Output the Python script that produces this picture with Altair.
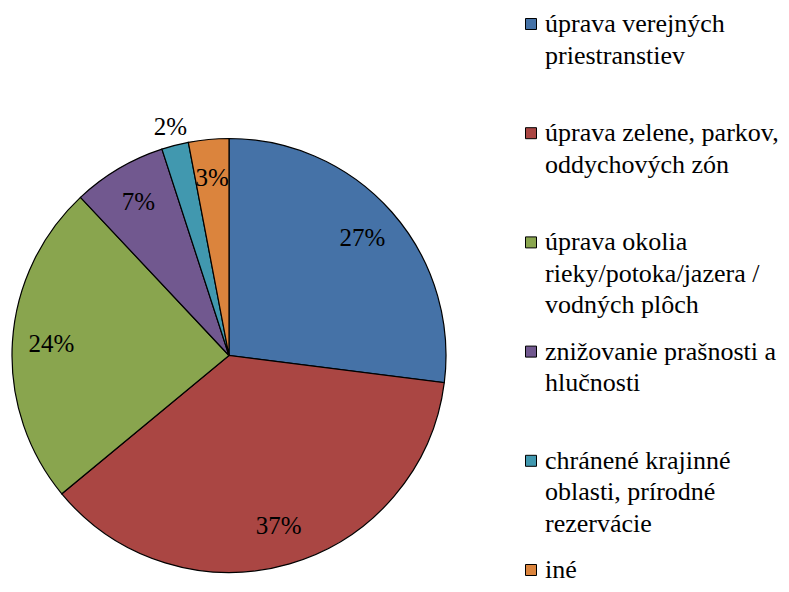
import altair as alt
import pandas as pd

categories = [
    "úprava verejných\npriestranstiev",
    "úprava zelene, parkov,\noddychových zón",
    "úprava okolia\nrieky/potoka/jazera /\nvodných plôch",
    "znižovanie prašnosti a\nhlučnosti",
    "chránené krajinné\noblasti, prírodné\nrezervácie",
    "iné",
]
values = [27, 37, 24, 7, 2, 3]
labels = ["27%", "37%", "24%", "7%", "2%", "3%"]
colors = ["#4572A7", "#AA4643", "#89A54E", "#71588F", "#4198AF", "#DB843D"]

df = pd.DataFrame({
    "cat": categories,
    "value": values,
    "label": labels,
    "idx": list(range(len(categories))),
})

FONT = "Liberation Serif"
cx, cy, R = 221, 347.5, 217

base = alt.Chart(df)

color = alt.Color("cat:N", scale=alt.Scale(domain=categories, range=colors), legend=None)
theta = alt.Theta("value:Q", stack=True)
order = alt.Order("idx:Q")

pie = base.mark_arc(outerRadius=R, stroke="black", strokeWidth=1.2).encode(
    theta=theta, color=color, order=order,
    x=alt.value(cx), y=alt.value(cy),
)

inside = base.mark_text(
    radius=178, font=FONT, fontSize=25, fill="black", baseline="middle", align="center"
).encode(
    theta=theta, order=order, x=alt.value(cx), y=alt.value(cy),
    text=alt.condition(alt.datum.label != "2%", "label:N", alt.value("")),
)

outside = base.mark_text(
    radius=236, font=FONT, fontSize=25, fill="black", baseline="middle", align="center"
).encode(
    theta=theta, order=order, x=alt.value(cx), y=alt.value(cy),
    text=alt.condition(alt.datum.label == "2%", "label:N", alt.value("")),
)

ypos = alt.Y("cat:N", sort=categories, scale=alt.Scale(type="point", range=[16, 562], padding=0), axis=None)

leg_sq = base.mark_point(shape="square", filled=True, size=121, stroke="black", strokeWidth=1, opacity=1).encode(
    x=alt.value(523), y=ypos, color=color,
)
leg_txt = base.mark_text(
    font=FONT, fontSize=26, align="left", baseline="alphabetic", dy=8, lineBreak="\n", lineHeight=31.5, fill="black"
).encode(x=alt.value(537), y=ypos, text="cat:N")

chart = alt.layer(pie, inside, outside, leg_sq, leg_txt).properties(
    width=773, height=576, autosize=alt.AutoSizeParams(type="none"), padding=0
).configure(font=FONT).configure_text(font=FONT).configure_view(stroke=None)

chart.save("out.html", embed_options={"renderer": "svg", "actions": False})
